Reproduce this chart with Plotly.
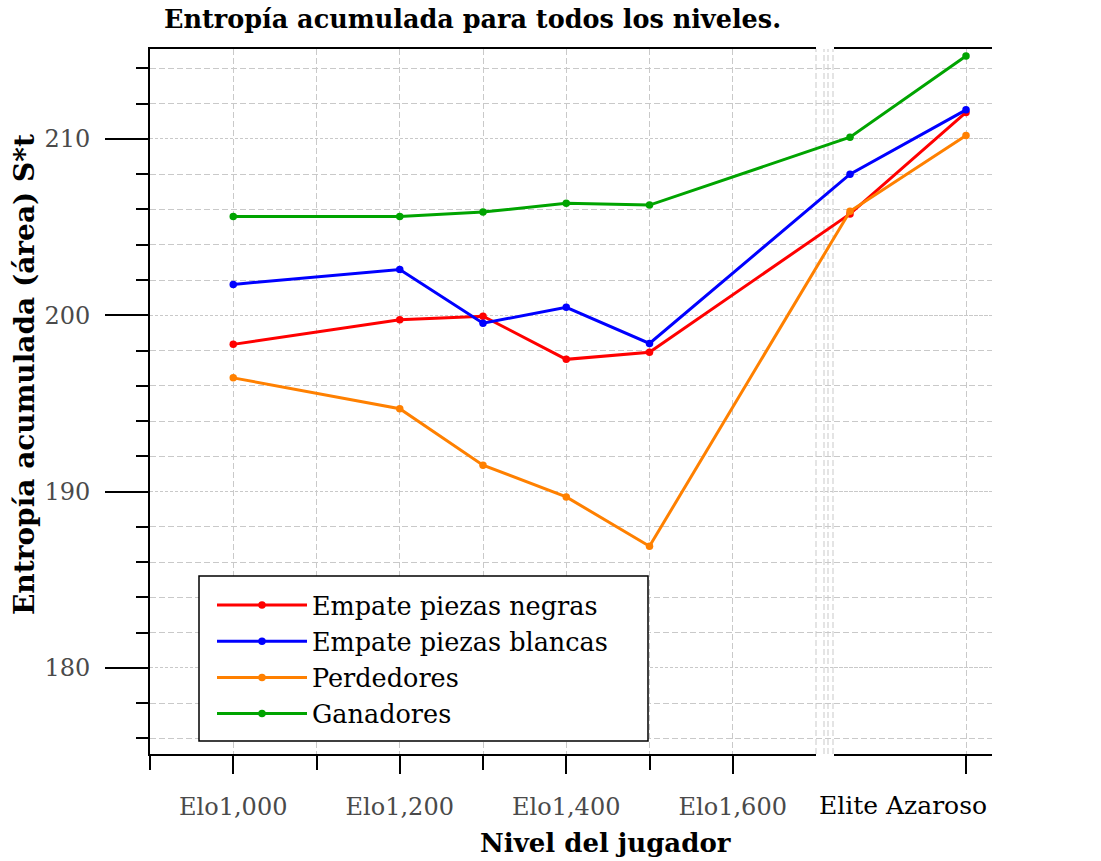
import plotly.graph_objects as go

# ---------------- data ----------------
ELO_LEVELS = [1000, 1200, 1300, 1400, 1500]          # left panel (Elo)
ELITE_LEVELS = [1, 2]                                 # right panel (Elite / Azaroso)
SERIES_NAMES = ["Empate piezas negras", "Empate piezas blancas", "Perdedores", "Ganadores"]
negras = [198.35, 199.75, 199.95, 197.5, 197.9, 205.75, 211.5]
blancas = [201.75, 202.6, 199.55, 200.45, 198.4, 208.0, 211.65]
perdedores = [196.45, 194.7, 191.5, 189.7, 186.9, 205.9, 210.2]
ganadores = [205.6, 205.6, 205.85, 206.35, 206.25, 210.1, 214.7]
X_TICK_VALS = [1000, 1200, 1400, 1600]
X_TICK_TEXT = ["Elo1,000", "Elo1,200", "Elo1,400", "Elo1,600"]
X_MINOR_VALS = [900, 1100, 1300, 1500]
RIGHT_TICK_VALS = [2]
RIGHT_TICK_TEXT = "Elite Azaroso"
Y_TICKS = [180, 190, 200, 210]
Y_MINOR = [v for v in range(176, 216, 2) if v % 10 != 0]

COLORS = ["#ff0000", "#0000ff", "#ff8000", "#00a400"]
SERIES = [negras, blancas, perdedores, ganadores]

# ---------------- layout geometry ----------------
W, H = 1101, 861
ML, MR, MT, MB = 150, 109, 49, 107
PW, PH = W - ML - MR, H - MT - MB
DOM_L = [0.0, (816 - ML) / PW]
DOM_R = [(834 - ML) / PW, 1.0]
RANGE_L = [900, 1700]
RANGE_R = [0.862, 2.224]
Y_RANGE = [175.12, 215.1]

FONT = "DejaVu Serif"
GRID = "#c9c9c9"
TICKGREY = "#4a4a4a"


def left_frac(x):
    return DOM_L[0] + (x - RANGE_L[0]) / (RANGE_L[1] - RANGE_L[0]) * (DOM_L[1] - DOM_L[0])


def right_frac(x):
    return DOM_R[0] + (x - RANGE_R[0]) / (RANGE_R[1] - RANGE_R[0]) * (DOM_R[1] - DOM_R[0])


def px_x(p):
    return (p - ML) / PW


def px_y(p):
    return (MT + PH - p) / PH


X_ALL = [left_frac(v) for v in ELO_LEVELS] + [right_frac(v) for v in ELITE_LEVELS]

fig = go.Figure()
# invisible anchor traces so both panel axes (left Elo panel, right Elite panel) are drawn
fig.add_trace(go.Scatter(x=ELO_LEVELS, y=negras[:5], mode="markers", marker=dict(opacity=0),
                         showlegend=False, hoverinfo="skip", xaxis="x", yaxis="y"))
fig.add_trace(go.Scatter(x=ELITE_LEVELS, y=negras[5:], mode="markers", marker=dict(opacity=0),
                         showlegend=False, hoverinfo="skip", xaxis="x2", yaxis="y"))
for name, vals, col in zip(SERIES_NAMES, SERIES, COLORS):
    fig.add_trace(go.Scatter(
        x=X_ALL, y=vals, name=name, mode="lines+markers",
        line=dict(color=col, width=3), marker=dict(color=col, size=7.5),
        xaxis="x3", yaxis="y",
    ))

axis_common = dict(showline=True, linecolor="black", linewidth=2, mirror=True,
                   ticks="outside", tickcolor="black", tickwidth=2, zeroline=False,
                   gridcolor=GRID, griddash="6px,3px", gridwidth=1)

fig.update_layout(
    width=W, height=H,
    margin=dict(l=ML, r=MR, t=MT, b=MB, autoexpand=False),
    paper_bgcolor="white", plot_bgcolor="rgba(0,0,0,0)",
    font=dict(family=FONT, color="black"),
    xaxis=dict(domain=DOM_L, range=RANGE_L, anchor="y", tickmode="array",
               tickvals=X_TICK_VALS, ticktext=X_TICK_TEXT, ticklen=18,
               ticklabelstandoff=12,
               tickfont=dict(size=24, color=TICKGREY), showgrid=True,
               minor=dict(tickmode="array", tickvals=X_MINOR_VALS, ticklen=14,
                          tickwidth=2, tickcolor="black", ticks="outside", showgrid=True,
                          gridcolor=GRID, griddash="6px,3px"),
               **axis_common),
    xaxis2=dict(domain=DOM_R, range=RANGE_R, anchor="y", tickmode="array",
                tickvals=RIGHT_TICK_VALS, ticktext=[""], ticklen=18, showgrid=True,
                **axis_common),
    xaxis3=dict(domain=[0, 1], range=[0, 1], anchor="y", visible=False,
                showgrid=False, zeroline=False),
    yaxis=dict(domain=[0, 1], range=Y_RANGE, anchor="x3", side="left",
               showline=True, linecolor="black", linewidth=2, zeroline=False,
               ticks="outside", tickcolor="black", tickwidth=2, ticklen=43,
               ticklabelstandoff=10,
               tickmode="array", tickvals=Y_TICKS,
               tickfont=dict(size=24, color=TICKGREY),
               showgrid=True, gridcolor=GRID, griddash="3px,2px", gridwidth=1,
               minor=dict(tickmode="array", tickvals=Y_MINOR, ticklen=12, tickwidth=2,
                          tickcolor="black", ticks="outside", showgrid=True,
                          gridcolor=GRID, griddash="6px,3px")),
    yaxis2=dict(overlaying="y", anchor="x3", side="right", range=Y_RANGE,
                showline=True, linecolor="black", linewidth=2, zeroline=False,
                ticks="outside", tickcolor="black", tickwidth=2, ticklen=43,
                ticklabelstandoff=10,
                tickmode="array", tickvals=Y_TICKS, showgrid=False,
                tickfont=dict(size=24, color=TICKGREY),
                minor=dict(tickmode="array", tickvals=Y_MINOR, ticklen=12, tickwidth=2,
                           tickcolor="black", ticks="outside", showgrid=False)),
    legend=dict(x=px_x(212), y=px_y(582), xanchor="left", yanchor="top",
                bgcolor="rgba(0,0,0,0)", borderwidth=0,
                font=dict(size=25.5, family=FONT), itemwidth=90, tracegroupgap=0),
    showlegend=True,
)

# legend frame (white box with black border behind the legend entries)
fig.add_shape(type="rect", xref="paper", yref="paper",
              x0=px_x(199), x1=px_x(648), y0=px_y(741), y1=px_y(576),
              fillcolor="white", line=dict(color="black", width=1.5), layer="above")

# break decoration (dashed verticals in the gap)
for px in [816, 824, 828, 833]:
    fig.add_shape(type="line", xref="paper", yref="paper",
                  x0=px_x(px), x1=px_x(px), y0=0, y1=1,
                  line=dict(color=GRID, width=1, dash="6px,3px"), layer="below")

fig.add_annotation(text=RIGHT_TICK_TEXT, xref="paper", yref="paper",
                   x=px_x(903), y=px_y(805), showarrow=False,
                   font=dict(size=25, color="black", family=FONT),
                   xanchor="center", yanchor="middle")
fig.add_annotation(text="<b>Entropía acumulada para todos los niveles.</b>",
                   xref="paper", yref="paper", x=px_x(472), y=px_y(19),
                   showarrow=False, font=dict(size=25.5, family=FONT),
                   xanchor="center", yanchor="middle")
fig.add_annotation(text="<b>Nivel del jugador</b>", xref="paper", yref="paper",
                   x=px_x(605), y=px_y(843), showarrow=False,
                   font=dict(size=26, family=FONT), xanchor="center", yanchor="middle")
fig.add_annotation(text="<b>Entropía acumulada (área) S*t</b>", xref="paper", yref="paper",
                   x=px_x(24), y=px_y(375), showarrow=False, textangle=-90,
                   font=dict(size=28, family=FONT), xanchor="center", yanchor="middle")

fig.write_html("out.html", config={"displayModeBar": False},
               post_script="document.body.style.margin='0px';")
